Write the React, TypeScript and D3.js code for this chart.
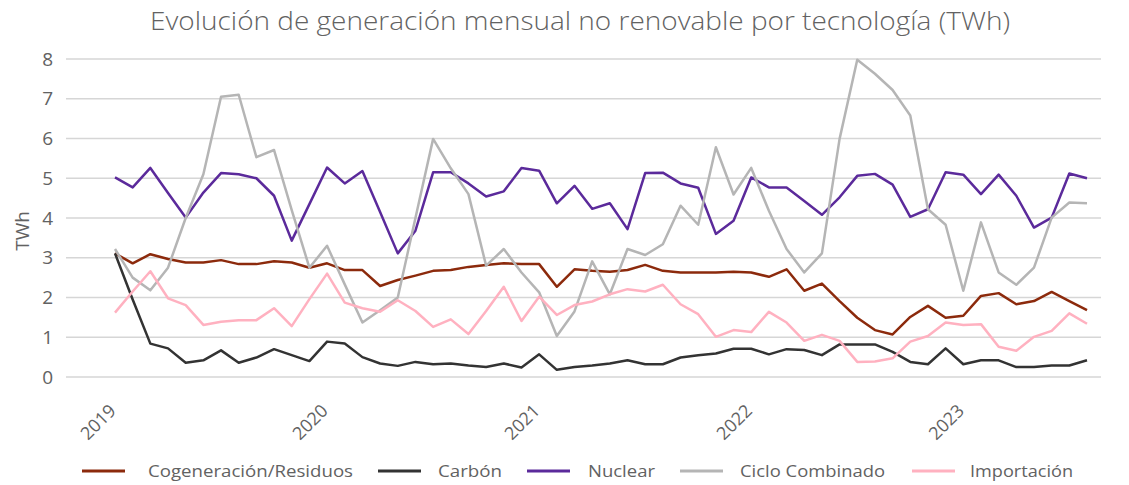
import React from 'react';
import * as d3 from 'd3';

// months Jan 2019 .. Aug 2023
const years = ['2019', '2020', '2021', '2022', '2023'];
const months = years.flatMap((y) =>
  ['01', '02', '03', '04', '05', '06', '07', '08', '09', '10', '11', '12'].map((m) => `${y}-${m}`)
).slice(0, 56);

const cogeneracion = [
  3.11, 2.86, 3.09, 2.97, 2.88, 2.88, 2.94, 2.84, 2.84, 2.91, 2.88, 2.75,
  2.86, 2.69, 2.69, 2.29, 2.44, 2.55, 2.67, 2.69, 2.77, 2.82, 2.86, 2.84,
  2.84, 2.27, 2.71, 2.67, 2.65, 2.69, 2.82, 2.67, 2.63, 2.63, 2.63, 2.65,
  2.63, 2.52, 2.71, 2.17, 2.35, 1.91, 1.49, 1.18, 1.07, 1.51, 1.79, 1.49,
  1.54, 2.04, 2.11, 1.83, 1.91, 2.14, 1.91, 1.68,
];
const carbon = [
  3.11, 1.95, 0.84, 0.72, 0.36, 0.42, 0.67, 0.36, 0.49, 0.7, 0.55, 0.4,
  0.89, 0.84, 0.5, 0.34, 0.28, 0.38, 0.32, 0.34, 0.29, 0.25, 0.34, 0.24,
  0.57, 0.18, 0.25, 0.29, 0.34, 0.42, 0.32, 0.32, 0.49, 0.55, 0.59, 0.71,
  0.71, 0.57, 0.7, 0.68, 0.55, 0.82, 0.82, 0.82, 0.63, 0.38, 0.32, 0.72,
  0.32, 0.42, 0.42, 0.25, 0.25, 0.29, 0.29, 0.42,
];
const nuclear = [
  5.02, 4.77, 5.26, 4.63, 4.01, 4.64, 5.13, 5.1, 5.0, 4.56, 3.43, 4.35,
  5.27, 4.87, 5.18, 4.15, 3.11, 3.68, 5.15, 5.15, 4.87, 4.54, 4.67, 5.26,
  5.19, 4.37, 4.81, 4.23, 4.37, 3.72, 5.13, 5.14, 4.87, 4.76, 3.6, 3.93,
  5.02, 4.77, 4.77, 4.43, 4.08, 4.52, 5.06, 5.11, 4.84, 4.03, 4.22, 5.15,
  5.09, 4.6, 5.09, 4.56, 3.76, 4.01, 5.12, 5.0,
];
const cicloCombinado = [
  3.22, 2.5, 2.18, 2.75, 4.0, 5.1, 7.05, 7.1, 5.53, 5.71, 4.2, 2.75,
  3.3, 2.33, 1.37, 1.68, 2.0, 4.0, 5.99, 5.25, 4.6, 2.8, 3.22, 2.63,
  2.13, 1.03, 1.65, 2.91, 2.08, 3.22, 3.07, 3.34, 4.31, 3.83, 5.78, 4.59,
  5.26, 4.18, 3.22, 2.63, 3.11, 5.99, 7.98, 7.63, 7.22, 6.58, 4.22, 3.83,
  2.17, 3.89, 2.63, 2.32, 2.75, 4.01, 4.39, 4.37,
];
const importacion = [
  1.62, 2.15, 2.66, 1.98, 1.81, 1.31, 1.39, 1.43, 1.43, 1.73, 1.28, 1.96,
  2.6, 1.87, 1.73, 1.64, 1.93, 1.66, 1.26, 1.45, 1.08, 1.66, 2.27, 1.41,
  2.02, 1.56, 1.81, 1.9, 2.08, 2.21, 2.15, 2.32, 1.83, 1.58, 1.01, 1.18,
  1.13, 1.64, 1.37, 0.91, 1.06, 0.91, 0.38, 0.39, 0.47, 0.89, 1.03, 1.37,
  1.31, 1.33, 0.76, 0.66, 1.01, 1.16, 1.6, 1.34,
];

const yTicks = [0, 1, 2, 3, 4, 5, 6, 7, 8];

const series = [
  { name: 'Cogeneración/Residuos', values: cogeneracion, color: '#8c2a0c' },
  { name: 'Carbón', values: carbon, color: '#333333' },
  { name: 'Nuclear', values: nuclear, color: '#5b2a9b' },
  { name: 'Ciclo Combinado', values: cicloCombinado, color: '#b5b5b5' },
  { name: 'Importación', values: importacion, color: '#ffb1c0' },
];

// legend positions: line start, text start, text width
const legendPos = [
  [82, 148, 205],
  [378, 438, 64],
  [527, 588, 67],
  [680, 740, 145],
  [912, 970, 103],
];

const FONT = "'Open Sans', 'Noto Sans', sans-serif";
const TEXT = '#626262';

export default function App() {
  const width = 1129;
  const height = 485;

  const x = d3.scalePoint<string>().domain(months).range([115, 1087]);
  const y = d3.scaleLinear().domain([0, 8]).range([377, 59]);

  const line = d3
    .line<number>()
    .x((_, i) => x(months[i]) as number)
    .y((d) => y(d));

  return (
    <svg
      width={width}
      height={height}
      style={{ position: 'absolute', left: 0, top: 0, background: '#fff' }}
      fontFamily={FONT}
    >
      <text
        x={150}
        y={30}
        fontSize={25}
        fontWeight={300}
        fill={TEXT}
        textLength={860}
        lengthAdjust="spacingAndGlyphs"
      >
        Evolución de generación mensual no renovable por tecnología (TWh)
      </text>

      {yTicks.map((t) => (
        <g key={t}>
          <line x1={66} x2={1101} y1={y(t)} y2={y(t)} stroke="#d6d6d6" strokeWidth={1.3} />
          <text x={53} y={y(t)} dy="0.35em" textAnchor="end" fontSize={19} fill={TEXT}>
            {t}
          </text>
        </g>
      ))}

      <text
        transform={`translate(22,231) rotate(-90)`}
        textAnchor="middle"
        dy="0.35em"
        fontSize={19}
        fill={TEXT}
      >
        TWh
      </text>

      {years.map((yr) => {
        const tx = (x(`${yr}-01`) as number) + 2;
        return (
          <text
            key={yr}
            transform={`translate(${tx},412) rotate(-45)`}
            textAnchor="end"
            fontSize={18}
            fill={TEXT}
          >
            {yr}
          </text>
        );
      })}

      {series.map((s) => (
        <path
          key={s.name}
          d={line(s.values) ?? ''}
          fill="none"
          stroke={s.color}
          strokeWidth={2.5}
          strokeLinejoin="round"
        />
      ))}

      {series.map((s, i) => (
        <g key={s.name}>
          <line
            x1={legendPos[i][0]}
            x2={legendPos[i][0] + 43}
            y1={471}
            y2={471}
            stroke={s.color}
            strokeWidth={3}
          />
          <text
            x={legendPos[i][1]}
            y={471}
            dy="0.35em"
            fontSize={17}
            fill={TEXT}
            textLength={legendPos[i][2]}
            lengthAdjust="spacingAndGlyphs"
          >
            {s.name}
          </text>
        </g>
      ))}
    </svg>
  );
}
